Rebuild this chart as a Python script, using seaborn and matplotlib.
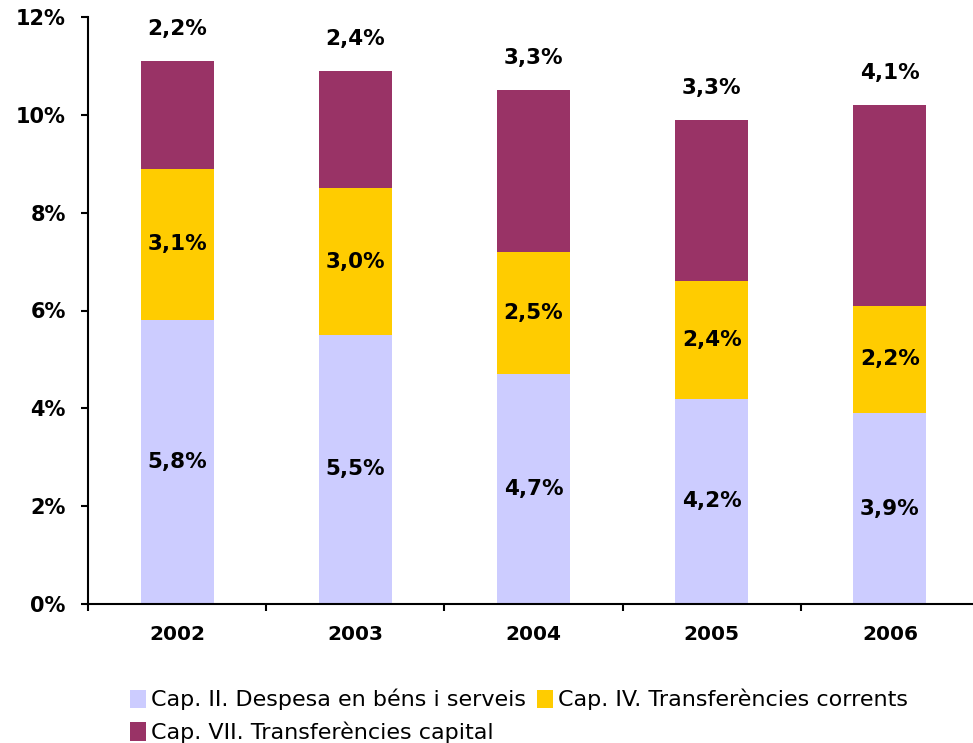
import numpy as np
import pandas as pd
import matplotlib
matplotlib.use("Agg")
import matplotlib.pyplot as plt
import seaborn as sns
from matplotlib.patches import Patch
from matplotlib.ticker import FuncFormatter, FixedLocator

YEARS = ["2002", "2003", "2004", "2005", "2006"]
CAP_II = [5.8, 5.5, 4.7, 4.2, 3.9]
CAP_IV = [3.1, 3.0, 2.5, 2.4, 2.2]
CAP_VII = [2.2, 2.4, 3.3, 3.3, 4.1]

SERIES_NAMES = [
    "Cap. II. Despesa en béns i serveis",
    "Cap. IV. Transferències corrents",
    "Cap. VII. Transferències capital",
]
COLORS = ["#CCCCFF", "#FFCC00", "#993366"]

sns.set_style("white")
plt.rcParams["font.family"] = ["DejaVu Sans"]
plt.rcParams["text.color"] = "black"
plt.rcParams["xtick.color"] = "black"
plt.rcParams["ytick.color"] = "black"

df = pd.DataFrame(
    {"year": YEARS, "cap2": CAP_II, "cap4": CAP_IV, "cap7": CAP_VII}
)
df["base4"] = df["cap2"]
df["base7"] = df["cap2"] + df["cap4"]

fig = plt.figure(figsize=(9.73, 7.43), dpi=100)
ax = fig.add_axes([88 / 973, 1 - 604 / 743, 891 / 973, 587 / 743])

width = 0.41
bar_kw = dict(width=width, saturation=1, linewidth=0, edgecolor="none", ax=ax)
sns.barplot(data=df, x="year", y="cap2", color=COLORS[0], **bar_kw)
sns.barplot(data=df, x="year", y="cap4", bottom=df["base4"], color=COLORS[1],
            **bar_kw)
sns.barplot(data=df, x="year", y="cap7", bottom=df["base7"], color=COLORS[2],
            **bar_kw)

def fmt(v):
    return f"{v:.1f}%".replace(".", ",")

for i in range(len(YEARS)):
    ax.text(i, CAP_II[i] / 2, fmt(CAP_II[i]), ha="center", va="center",
            fontsize=15.5, fontweight="bold")
    ax.text(i, CAP_II[i] + CAP_IV[i] / 2, fmt(CAP_IV[i]), ha="center",
            va="center", fontsize=15.5, fontweight="bold")
    top = CAP_II[i] + CAP_IV[i] + CAP_VII[i]
    ax.annotate(fmt(CAP_VII[i]), (i, top), xytext=(0, 16),
                textcoords="offset points", ha="center", va="bottom",
                fontsize=15.5, fontweight="bold")

ax.set_xlim(-0.5, 4.5)
ax.set_ylim(0, 12)
ax.set_yticks(np.arange(0, 13, 2))
ax.yaxis.set_major_formatter(FuncFormatter(lambda v, p: f"{v:.0f}%"))
ax.set_xlabel("")
ax.set_ylabel("")

ax.xaxis.set_minor_locator(FixedLocator(np.arange(-0.5, 5, 1)))
ax.tick_params(axis="x", which="major", length=0, pad=15, labelsize=14.5)
ax.tick_params(axis="x", which="minor", length=5, width=1.5,
               direction="out", bottom=True, color="black")
ax.tick_params(axis="y", length=5, width=1.5, direction="out", left=True,
               labelsize=15, color="black", pad=11)
for lbl in ax.get_xticklabels() + ax.get_yticklabels():
    lbl.set_fontweight("bold")

for s in ["top", "right"]:
    ax.spines[s].set_visible(False)
for s in ["left", "bottom"]:
    ax.spines[s].set_color("black")
    ax.spines[s].set_linewidth(1.5)

handles = [Patch(facecolor=c, edgecolor="none") for c in COLORS]
order = [0, 2, 1]
fig.legend([handles[k] for k in order], [SERIES_NAMES[k] for k in order],
           loc="upper left", bbox_to_anchor=(130 / 973, 1 - 689 / 743),
           ncol=2, frameon=False, fontsize=16, handlelength=0.7,
           handleheight=0.9, handletextpad=0.25, columnspacing=0.5,
           labelspacing=0.5, borderaxespad=0, borderpad=0)

fig.savefig("out.png", dpi=100)
